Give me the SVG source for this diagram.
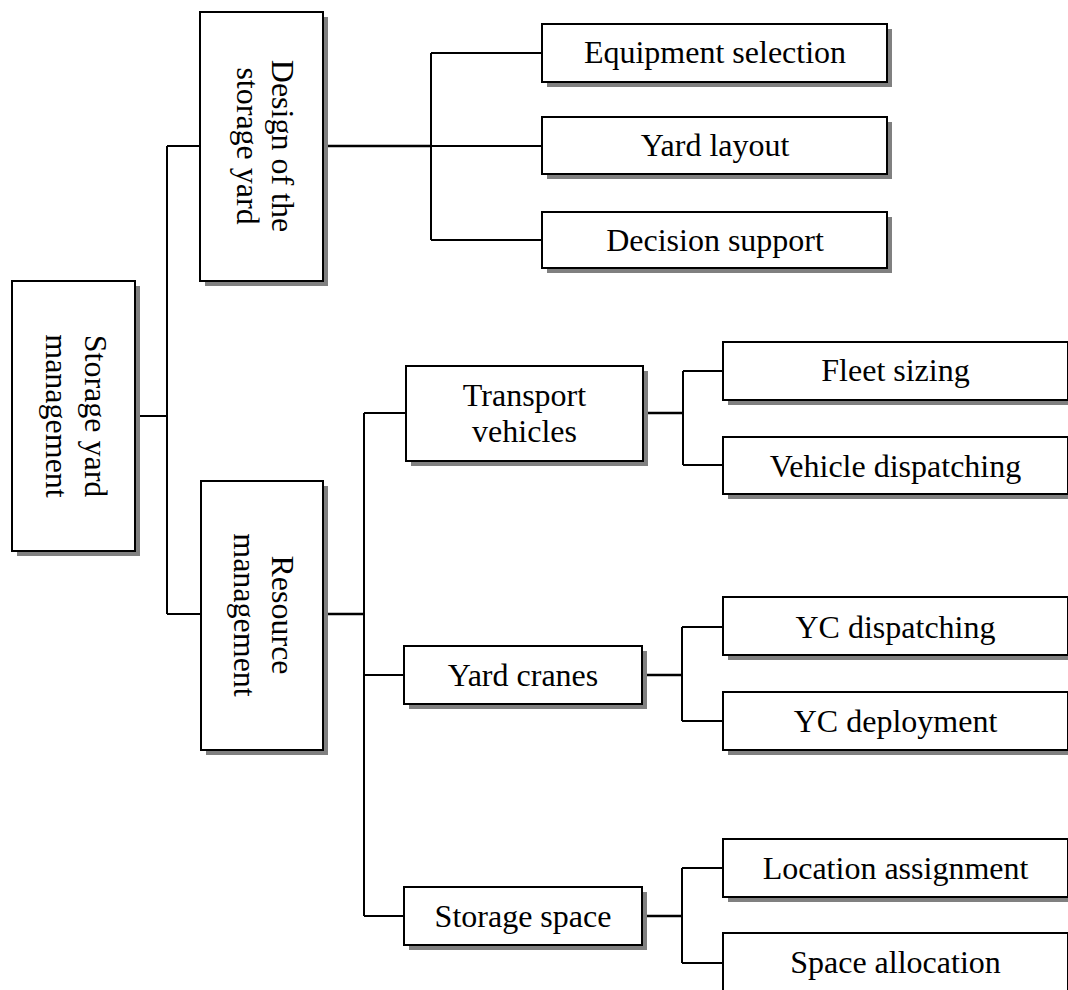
<svg xmlns="http://www.w3.org/2000/svg" width="1068" height="990" viewBox="0 0 1068 990">
<style>
.sh{fill:#808080;stroke:none}
.bx{fill:#fff;stroke:#000;stroke-width:2}
.t{font-family:"Liberation Serif","Times New Roman",serif;font-size:32px;fill:#000;text-anchor:middle}
.c{fill:none;stroke:#000;stroke-width:2}
.ct{fill:none;stroke:#000;stroke-width:2.6}
</style>
<rect width="1068" height="990" fill="#fff"/>
<g id="connectors">
<path class="c" d="M135,416 H167 M167,146 V614 M167,146 H200 M167,614 H201"/>
<path class="ct" d="M323,146 H431"/>
<path class="c" d="M431,53 V240 M431,53 H542 M431,146 H542 M431,240 H542"/>
<path class="ct" d="M323,614 H364"/>
<path class="c" d="M364,413 V916 M364,413 H406 M364,675 H404 M364,916 H404"/>
<path class="ct" d="M643,413 H683"/>
<path class="c" d="M683,371 V465 M683,371 H723 M683,465 H723"/>
<path class="ct" d="M642,675 H682"/>
<path class="c" d="M682,627 V721 M682,627 H723 M682,721 H723"/>
<path class="ct" d="M642,916 H682"/>
<path class="c" d="M682,868 V963 M682,868 H723 M682,963 H723"/>
</g>
<g id="root">
<rect class="sh" x="17" y="286" width="123" height="270"/>
<rect class="bx" x="12" y="281" width="123" height="270"/>
<g transform="translate(85,416) rotate(90)"><text class="t" x="0" y="0">Storage yard</text><text class="t" x="0" y="39">management</text></g>
</g>
<g id="design">
<rect class="sh" x="205" y="17" width="123" height="269"/>
<rect class="bx" x="200" y="12" width="123" height="269"/>
<g transform="translate(272,146) rotate(90)"><text class="t" x="0" y="0">Design of the</text><text class="t" x="0" y="35">storage yard</text></g>
</g>
<g id="resource">
<rect class="sh" x="206" y="486" width="122" height="269"/>
<rect class="bx" x="201" y="481" width="122" height="269"/>
<g transform="translate(272,615) rotate(90)"><text class="t" x="0" y="0">Resource</text><text class="t" x="0" y="38">management</text></g>
</g>
<g id="equipment">
<rect class="sh" x="547" y="29" width="345" height="58"/>
<rect class="bx" x="542" y="24" width="345" height="58"/>
<text class="t" x="715" y="63">Equipment selection</text>
</g>
<g id="yardlayout">
<rect class="sh" x="547" y="122" width="345" height="57"/>
<rect class="bx" x="542" y="117" width="345" height="57"/>
<text class="t" x="715" y="156">Yard layout</text>
</g>
<g id="decision">
<rect class="sh" x="547" y="217" width="345" height="56"/>
<rect class="bx" x="542" y="212" width="345" height="56"/>
<text class="t" x="715" y="251">Decision support</text>
</g>
<g id="transport">
<rect class="sh" x="411" y="371" width="237" height="95"/>
<rect class="bx" x="406" y="366" width="237" height="95"/>
<text class="t" x="524.5" y="406">Transport</text>
<text class="t" x="524.5" y="442">vehicles</text>
</g>
<g id="cranes">
<rect class="sh" x="409" y="651" width="238" height="58"/>
<rect class="bx" x="404" y="646" width="238" height="58"/>
<text class="t" x="523" y="686">Yard cranes</text>
</g>
<g id="storage">
<rect class="sh" x="409" y="892" width="238" height="58"/>
<rect class="bx" x="404" y="887" width="238" height="58"/>
<text class="t" x="523" y="927">Storage space</text>
</g>
<g id="fleet">
<rect class="sh" x="728" y="347" width="345" height="58"/>
<rect class="bx" x="723" y="342" width="345" height="58"/>
<text class="t" x="895.5" y="381">Fleet sizing</text>
</g>
<g id="vehicle">
<rect class="sh" x="728" y="442" width="345" height="57"/>
<rect class="bx" x="723" y="437" width="345" height="57"/>
<text class="t" x="895.5" y="477">Vehicle dispatching</text>
</g>
<g id="ycdisp">
<rect class="sh" x="728" y="602" width="345" height="58"/>
<rect class="bx" x="723" y="597" width="345" height="58"/>
<text class="t" x="895.5" y="638">YC dispatching</text>
</g>
<g id="ycdeploy">
<rect class="sh" x="728" y="697" width="345" height="58"/>
<rect class="bx" x="723" y="692" width="345" height="58"/>
<text class="t" x="895.5" y="732">YC deployment</text>
</g>
<g id="location">
<rect class="sh" x="728" y="844" width="345" height="58"/>
<rect class="bx" x="723" y="839" width="345" height="58"/>
<text class="t" x="895.5" y="879">Location assignment</text>
</g>
<g id="space">
<rect class="sh" x="728" y="938" width="345" height="58"/>
<rect class="bx" x="723" y="933" width="345" height="58"/>
<text class="t" x="895.5" y="973">Space allocation</text>
</g>
</svg>
